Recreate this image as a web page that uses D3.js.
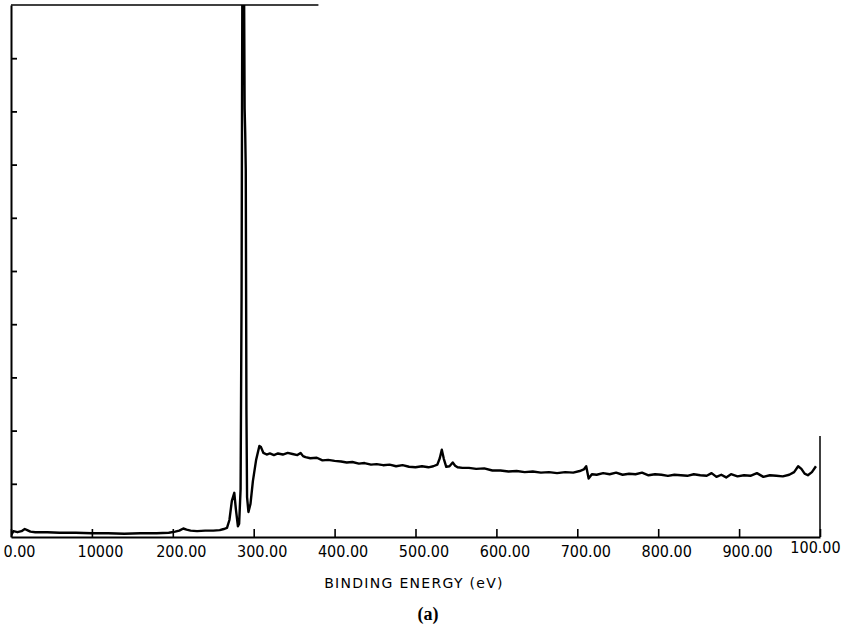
<!DOCTYPE html>
<html>
<head>
<meta charset="utf-8">
<script src="https://cdn.jsdelivr.net/npm/d3@7"></script>
<style>
  html, body { margin: 0; padding: 0; background: #fff; }
  svg { display: block; }
</style>
</head>
<body>
<svg id="chart" width="845" height="639"></svg>
<script>
// ---- data ----
const energy = [0, 3, 8, 13, 17, 20, 24, 30, 45, 60, 80, 100, 120, 140, 160, 180, 195, 203, 208, 213, 217, 222, 230, 240, 250, 258, 263, 267, 270, 273, 276, 278, 280.5, 282, 283.8, 285, 286, 288, 288.8, 289.5, 290.2, 291, 291.8, 293.5, 296, 299, 303, 307, 309, 312, 316, 320, 325, 330, 336, 342, 348, 354, 358, 361, 364, 370, 378, 385, 392, 400, 408, 415, 422, 430, 437, 445, 452, 460, 468, 476, 484, 492, 500, 508, 516, 522, 527, 530, 532.5, 535, 538, 542, 546, 549, 552, 558, 566, 575, 585, 595, 605, 615, 625, 635, 645, 655, 665, 675, 685, 695, 703, 708, 711, 714, 718, 724, 732, 740, 748, 756, 764, 772, 780, 788, 796, 804, 812, 820, 828, 836, 844, 852, 860, 866, 872, 878, 884, 890, 898, 906, 914, 922, 930, 938, 946, 954, 962, 968, 973, 977, 981, 985, 990, 995, 1000];
const intensity = [0.03, 0.11, 0.09, 0.11, 0.15, 0.13, 0.10, 0.09, 0.09, 0.08, 0.08, 0.07, 0.07, 0.06, 0.07, 0.07, 0.08, 0.10, 0.12, 0.16, 0.14, 0.12, 0.11, 0.12, 0.12, 0.13, 0.15, 0.17, 0.32, 0.68, 0.83, 0.52, 0.20, 0.25, 0.90, 4.5, 10.6, 10.6, 8.05, 7.6, 6.9, 2.4, 0.75, 0.47, 0.62, 1.05, 1.45, 1.71, 1.69, 1.58, 1.55, 1.57, 1.54, 1.57, 1.55, 1.58, 1.56, 1.54, 1.58, 1.52, 1.50, 1.48, 1.49, 1.44, 1.45, 1.43, 1.42, 1.40, 1.41, 1.38, 1.39, 1.36, 1.37, 1.35, 1.36, 1.33, 1.35, 1.32, 1.31, 1.33, 1.31, 1.33, 1.36, 1.48, 1.64, 1.47, 1.32, 1.33, 1.40, 1.34, 1.31, 1.30, 1.30, 1.28, 1.29, 1.25, 1.25, 1.23, 1.24, 1.22, 1.23, 1.21, 1.22, 1.20, 1.22, 1.21, 1.24, 1.27, 1.33, 1.10, 1.18, 1.17, 1.20, 1.18, 1.21, 1.17, 1.19, 1.18, 1.21, 1.16, 1.18, 1.17, 1.15, 1.17, 1.16, 1.15, 1.18, 1.16, 1.15, 1.20, 1.13, 1.17, 1.12, 1.18, 1.14, 1.16, 1.15, 1.20, 1.13, 1.16, 1.15, 1.14, 1.17, 1.22, 1.33, 1.28, 1.19, 1.16, 1.22, 1.33];

const xTickValues = [0, 100, 200, 300, 400, 500, 600, 700, 800, 900, 1000];
const xTickLabels = ["0.00", "10000", "200.00", "300.00", "400.00", "500.00", "600.00", "700.00", "800.00", "900.00", "100.00"];
const yTickValues = [1, 2, 3, 4, 5, 6, 7, 8, 9];
const xTitle = "BINDING ENERGY (eV)";
const caption = "(a)";

// ---- layout ----
const L = 11, R = 820, T = 5, B = 537;
const svg = d3.select("#chart");

const x = d3.scaleLinear().domain([0, 1000]).range([L, R]);
const y = d3.scaleLinear().domain([0, 10]).range([B, T]);

const tickFont = "'DejaVu Sans Condensed', 'DejaVu Sans', sans-serif";

// clip
svg.append("defs").append("clipPath").attr("id", "plotclip")
  .append("rect").attr("x", L).attr("y", T).attr("width", R - L).attr("height", B - T + 2);

// bottom axis
const xAxis = d3.axisBottom(x)
  .tickValues(xTickValues)
  .tickFormat((d, i) => xTickLabels[i])
  .tickSizeInner(-8).tickSizeOuter(0).tickPadding(9);
const gx = svg.append("g").attr("transform", `translate(0,${B})`).call(xAxis);
gx.select(".domain").attr("stroke", "#000").attr("stroke-width", 2);
gx.selectAll(".tick line").attr("stroke", "#000").attr("stroke-width", 1.6);
gx.selectAll(".tick text")
  .attr("font-family", tickFont).attr("font-size", 16).attr("fill", "#000")
  .attr("dx", (d, i) => i === xTickValues.length - 1 ? -5 : 8)
  .attr("dy", (d, i) => i === xTickValues.length - 1 ? "0.45em" : "0.71em");

// left axis
const yAxis = d3.axisLeft(y).tickValues(yTickValues).tickFormat("")
  .tickSizeInner(-6).tickSizeOuter(0);
const gy = svg.append("g").attr("transform", `translate(${L},0)`).call(yAxis);
gy.select(".domain").attr("stroke", "#000").attr("stroke-width", 2);
gy.selectAll(".tick line").attr("stroke", "#000").attr("stroke-width", 1.8);

// top border (partial) and right border (partial)
svg.append("line").attr("x1", L).attr("x2", x(380)).attr("y1", T).attr("y2", T)
  .attr("stroke", "#000").attr("stroke-width", 1.5);
svg.append("line").attr("x1", R).attr("x2", R).attr("y1", y(1.9)).attr("y2", B)
  .attr("stroke", "#000").attr("stroke-width", 1.5);

// spectrum
const data = energy.map((e, i) => [e, intensity[i]]);
const line = d3.line().x(d => x(d[0])).y(d => y(d[1]));
svg.append("path").datum(data)
  .attr("clip-path", "url(#plotclip)")
  .attr("d", line)
  .attr("fill", "none").attr("stroke", "#000").attr("stroke-width", 2.4)
  .attr("stroke-linejoin", "round");

// titles
svg.append("text").attr("x", 414).attr("y", 588).attr("text-anchor", "middle")
  .attr("font-family", "'DejaVu Sans', sans-serif").attr("font-size", 14).attr("letter-spacing", 1.3)
  .attr("fill", "#000").text(xTitle);
svg.append("text").attr("x", 428).attr("y", 620).attr("text-anchor", "middle")
  .attr("font-family", "'Liberation Serif', 'DejaVu Serif', serif").attr("font-weight", "bold")
  .attr("font-size", 18).attr("fill", "#000").text(caption);
</script>
</body>
</html>
